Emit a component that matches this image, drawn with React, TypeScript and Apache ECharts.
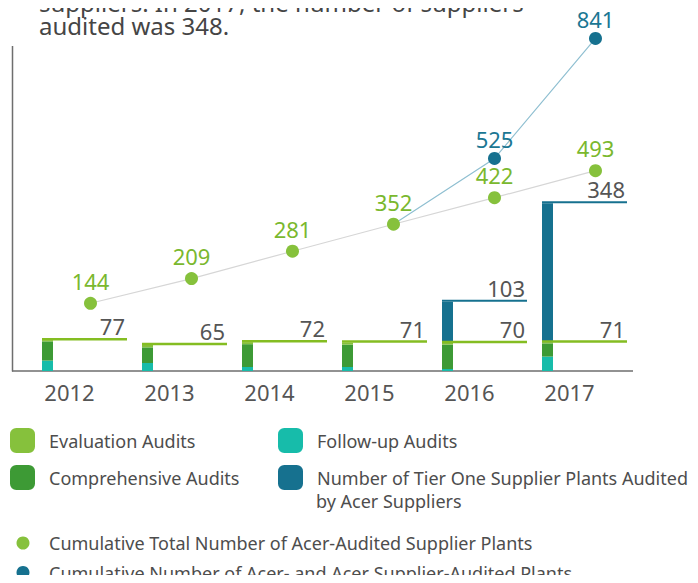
import React, { useEffect, useRef } from "react";
import * as echarts from "echarts";

const years = ["2012", "2013", "2014", "2015", "2016", "2017"];
const followUp = [26, 20, 10, 10, 5, 36];
const comprehensive = [48, 39, 57, 56, 61, 33];
const evaluation = [3, 6, 5, 5, 4, 2];
const acerTotal = [77, 65, 72, 71, 70, 71];
const tierOne = [0, 0, 0, 0, 103, 348];
const cumulativeAcer = [144, 209, 281, 352, 422, 493];
const cumulativeAll: (number | null)[] = [null, null, null, 352, 525, 841];

const C_EVAL = "#86c13c";
const C_EVAL_LINE = "#84bd22";
const C_COMP = "#3d9a35";
const C_FOLLOW = "#17bcaa";
const C_TIER = "#16718f";
const FONT = '"Noto Sans", sans-serif';

const N_EVAL = "Evaluation Audits";
const N_FOLLOW = "Follow-up Audits";
const N_COMP = "Comprehensive Audits";
const N_TIER = "Number of Tier One Supplier Plants Audited by Acer Suppliers";
const N_CUM1 = "Cumulative Total Number of Acer-Audited Supplier Plants";
const N_CUM2 = "Cumulative Number of Acer- and Acer Supplier-Audited Plants";

function makeRender(color: string, withLine: boolean, lineColor: string, lineW: number) {
  return (params: any, api: any) => {
    const i = api.value(0);
    const lo = api.value(1);
    const hi = api.value(2);
    const lab = api.value(3);
    const pLo = api.coord([i, lo]);
    const pHi = api.coord([i, hi]);
    const band = api.size([1, 0])[0];
    const x0 = pLo[0] - band * 0.275;
    const w = band * 0.11;
    const L = band * 0.85;
    const children: any[] = [
      {
        type: "rect",
        shape: { x: x0, y: pHi[1], width: w, height: pLo[1] - pHi[1] },
        style: { fill: color },
      },
    ];
    if (withLine) {
      children.push({
        type: "line",
        shape: { x1: x0, y1: pHi[1] - 1, x2: x0 + L, y2: pHi[1] - 1 },
        style: { stroke: lineColor, lineWidth: lineW },
      });
      children.push({
        type: "text",
        style: {
          text: String(lab),
          x: x0 + L - 2,
          y: pHi[1] - 3,
          align: "right",
          verticalAlign: "bottom",
          fill: "#555555",
          font: `22px ${FONT}`,
        },
      });
    }
    return { type: "group", children };
  };
}

export default function App() {
  const ref = useRef<HTMLDivElement>(null);
  useEffect(() => {
    if (!ref.current) return;
    const chart = echarts.init(ref.current, null, { renderer: "svg" });

    const followData = years.map((_, i) => [i, 0, followUp[i], followUp[i]]);
    const compData = years.map((_, i) => [i, followUp[i], followUp[i] + comprehensive[i], comprehensive[i]]);
    const evalData = years.map((_, i) => [
      i,
      followUp[i] + comprehensive[i],
      followUp[i] + comprehensive[i] + evaluation[i],
      acerTotal[i],
    ]);
    const tierData = years
      .map((_, i) => [i, acerTotal[i], acerTotal[i] + tierOne[i], tierOne[i]])
      .filter((d) => d[3] > 0);

    const cumAllData = cumulativeAll.map((v, i) => {
      if (v === null) return "-";
      if (i > 0 && cumulativeAll[i - 1] === null)
        return { value: v, symbolSize: 0, label: { show: false } };
      return v;
    });

    const legendText = { fontSize: 18, color: "#4d4d4d", fontFamily: FONT };
    const sq = {
      padding: 0, icon: "roundRect", itemWidth: 25, itemHeight: 25, selectedMode: false,
      textStyle: { ...legendText, lineHeight: 22, padding: [0, 0, 0, 9] },
    };
    const dot = {
      padding: 0, icon: "circle", itemWidth: 13, itemHeight: 13, selectedMode: false,
      textStyle: { ...legendText, lineHeight: 13, padding: [0, 0, 0, 14.5] },
    };

    const option: any = {
      animation: false,
      grid: [
        { left: 19.5, top: 46, width: 600, height: 325 },
        { left: 40, top: 46, width: 606, height: 325 },
      ],
      xAxis: [
        {
          type: "category",
          data: years,
          gridIndex: 0,
          axisLine: { show: false },
          axisTick: { show: false },
          axisLabel: { fontSize: 22, color: "#555555", margin: 10, fontFamily: FONT },
        },
        { type: "category", data: years, gridIndex: 1, show: false },
      ],
      yAxis: [
        { type: "value", gridIndex: 0, min: 0, max: 812, show: false, splitLine: { show: false } },
        { type: "value", gridIndex: 1, min: -34.2, max: 821, show: false, splitLine: { show: false } },
      ],
      legend: [
        { ...sq, data: [N_EVAL], left: 10, top: 428 },
        { ...sq, data: [N_FOLLOW], left: 278, top: 428 },
        { ...sq, data: [N_COMP], left: 10, top: 465 },
        {
          ...sq, data: [N_TIER], left: 278, top: 465,
          formatter: () => "Number of Tier One Supplier Plants Audited",
        },
        { ...dot, data: [N_CUM1], left: 16.5, top: 534 },
        { ...dot, data: [N_CUM2], left: 16.5, top: 563.5 },
      ],
      graphic: [
        {
          type: "line", z: 0,
          shape: { x1: 12.5, y1: 46, x2: 12.5, y2: 371.5 },
          style: { stroke: "#6e6e6e", lineWidth: 1.5 },
        },
        {
          type: "line", z: 0,
          shape: { x1: 12, y1: 371, x2: 633, y2: 371 },
          style: { stroke: "#6e6e6e", lineWidth: 1.5 },
        },
        {
          type: "text", left: 39, top: -10,
          style: {
            text: "suppliers. In 2017, the number of suppliers",
            font: `24px ${FONT}`, fill: "#454545",
          },
        },
        {
          type: "text", left: 39, top: 13.6,
          style: { text: "audited was 348.", font: `24px ${FONT}`, fill: "#454545" },
        },
        {
          type: "text", left: 316, top: 490,
          style: { text: "by Acer Suppliers", font: `18px ${FONT}`, fill: "#4d4d4d", lineHeight: 22 },
        },
      ],
      series: [
        {
          type: "custom", name: N_FOLLOW, xAxisIndex: 0, yAxisIndex: 0,
          itemStyle: { color: C_FOLLOW },
          renderItem: makeRender(C_FOLLOW, false, C_FOLLOW, 0),
          encode: { x: 0, y: [1, 2] }, data: followData,
        },
        {
          type: "custom", name: N_COMP, xAxisIndex: 0, yAxisIndex: 0,
          itemStyle: { color: C_COMP },
          renderItem: makeRender(C_COMP, false, C_COMP, 0),
          encode: { x: 0, y: [1, 2] }, data: compData,
        },
        {
          type: "custom", name: N_TIER, xAxisIndex: 0, yAxisIndex: 0,
          itemStyle: { color: C_TIER },
          renderItem: makeRender(C_TIER, true, C_TIER, 2),
          encode: { x: 0, y: [1, 2] }, data: tierData,
        },
        {
          type: "custom", name: N_EVAL, xAxisIndex: 0, yAxisIndex: 0,
          itemStyle: { color: C_EVAL },
          renderItem: makeRender(C_EVAL, true, C_EVAL_LINE, 2.5),
          encode: { x: 0, y: [1, 2] }, data: evalData,
        },
        {
          type: "line", name: N_CUM2, xAxisIndex: 1, yAxisIndex: 1,
          data: cumAllData, clip: false, symbol: "circle", symbolSize: 13,
          itemStyle: { color: C_TIER },
          lineStyle: { color: "#8fbfd1", width: 1.2 },
          label: { show: true, position: "top", distance: 2, fontSize: 22, color: "#1b7793", fontFamily: FONT },
          z: 3,
        },
        {
          type: "line", name: N_CUM1, xAxisIndex: 1, yAxisIndex: 1,
          data: cumulativeAcer, clip: false, symbol: "circle", symbolSize: 13,
          itemStyle: { color: C_EVAL },
          lineStyle: { color: "#d6d6d6", width: 1.2 },
          label: { show: true, position: "top", distance: 5, fontSize: 22, color: "#7ab82e", fontFamily: FONT },
          z: 4,
        },
      ],
    };
    chart.setOption(option);
    return () => chart.dispose();
  }, []);
  return <div ref={ref} style={{ width: 698, height: 583, margin: -8 }} />;
}
